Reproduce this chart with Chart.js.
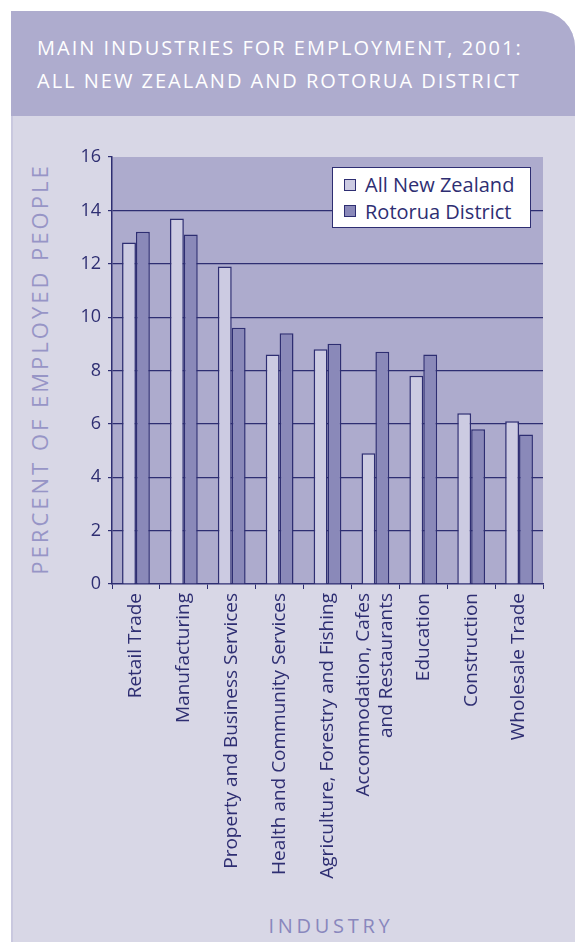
<!DOCTYPE html>
<html>
<head>
<meta charset="utf-8">
<title>Main industries for employment, 2001</title>
<script src="https://cdn.jsdelivr.net/npm/chart.js@4.4.1/dist/chart.umd.min.js"></script>
<style>
  html, body { margin: 0; padding: 0; background: #ffffff; }
  body { width: 575px; height: 942px; position: relative; overflow: hidden; font-family: "Open Sans", sans-serif; }
  .card { position: absolute; left: 11px; top: 11px; width: 564px; height: 931px; background: #d8d7e6; border-top-right-radius: 36px; overflow: hidden; }
  .card .head { position: absolute; left: 0; top: 0; width: 100%; height: 105px; background: #aeacce; }
  .card .edge { position: absolute; left: 0; top: 105px; width: 2px; bottom: 0; background: #c9c8df; }
  .title { position: absolute; left: 37px; color: #ffffff; font-size: 20px; line-height: 20px; letter-spacing: 2px; white-space: nowrap; }
  .ytitle { position: absolute; left: 39px; top: 369px; transform: translate(-50%, -50%) rotate(-90deg); color: #9795c6; font-size: 22px; letter-spacing: 3px; white-space: nowrap; }
  .xtitle { position: absolute; left: 331px; top: 925px; transform: translate(-50%, -50%); color: #8987bd; font-size: 20px; letter-spacing: 3.7px; white-space: nowrap; }
  #chart { position: absolute; left: 0; top: 0; }
  .legend { position: absolute; left: 332px; top: 167px; width: 197px; height: 59px; background: #ffffff; border: 1px solid #2e2e72; }
  .legend .row { position: absolute; left: 11px; height: 26px; line-height: 26px; color: #2e2e72; font-size: 20px; white-space: nowrap; }
  .legend .sw { display: inline-block; width: 10px; height: 10px; border: 1.5px solid #2e2e72; vertical-align: middle; margin-right: 9px; position: relative; top: -2px; }
</style>
</head>
<body>
<div class="card">
  <div class="head"></div>
  <div class="edge"></div>
</div>
<div class="title" style="top:38px">MAIN INDUSTRIES FOR EMPLOYMENT, 2001:</div>
<div class="title" style="top:71px">ALL NEW ZEALAND AND ROTORUA DISTRICT</div>
<div class="ytitle">PERCENT OF EMPLOYED PEOPLE</div>
<div class="xtitle">INDUSTRY</div>
<canvas id="chart" width="575" height="942"></canvas>
<div class="legend" id="legend"></div>
<script>
// industries, left to right
const industries = [
  'Retail Trade',
  'Manufacturing',
  'Property and Business Services',
  'Health and Community Services',
  'Agriculture, Forestry and Fishing',
  ['Accommodation, Cafes', 'and Restaurants'],
  'Education',
  'Construction',
  'Wholesale Trade'
];

// percent of employed people
const allNZ   = [12.8, 13.7, 11.9, 8.6, 8.8, 4.9, 7.8, 6.4, 6.1];
const rotorua = [13.2, 13.1, 9.6, 9.4, 9.0, 8.7, 8.6, 5.8, 5.6];

const seriesNames = ['All New Zealand', 'Rotorua District'];
const yTicks = [0, 2, 4, 6, 8, 10, 12, 14, 16];

const navy = '#2e2e72';
const fills = ['#cccbe2', '#8a89b9'];

// lavender fill behind the bars
const plotBg = {
  id: 'plotBg',
  beforeDraw(chart) {
    const { ctx, chartArea: a } = chart;
    ctx.save();
    ctx.fillStyle = '#adabcd';
    ctx.fillRect(a.left, a.top, a.right - a.left, a.bottom - a.top);
    ctx.restore();
  }
};

// centre two-line category labels on their tick
const centreLines = {
  id: 'centreLines',
  beforeDraw(chart) {
    const items = chart.scales.x.getLabelItems(chart.chartArea);
    items.forEach(it => {
      if (Array.isArray(it.label)) it.textOffset = 0;
    });
  }
};

const chart = new Chart(document.getElementById('chart').getContext('2d'), {
  type: 'bar',
  data: {
    labels: industries,
    datasets: [{
      label: seriesNames[0],
      data: allNZ,
      backgroundColor: fills[0],
      borderColor: navy,
      borderWidth: 1.5,
      categoryPercentage: 0.58,
      barPercentage: 1
    }, {
      label: seriesNames[1],
      data: rotorua,
      backgroundColor: fills[1],
      borderColor: navy,
      borderWidth: 1.5,
      categoryPercentage: 0.58,
      barPercentage: 1
    }]
  },
  options: {
    responsive: false,
    animation: false,
    devicePixelRatio: 1,
    layout: { padding: { left: 50, top: 157, right: 32, bottom: 58 } },
    plugins: {
      legend: { display: false },
      tooltip: { enabled: false }
    },
    scales: {
      x: {
        ticks: {
          color: navy,
          font: { family: 'Open Sans', size: 19 },
          minRotation: 90,
          maxRotation: 90,
          autoSkip: false,
          padding: 4
        },
        grid: { drawOnChartArea: false, tickLength: 5, color: navy, tickColor: navy },
        border: { color: navy, width: 1.5 },
        afterFit: s => { s.height = 300; }
      },
      y: {
        min: 0,
        max: 16,
        afterBuildTicks: s => { s.ticks = yTicks.map(v => ({ value: v })); },
        ticks: {
          color: navy,
          font: { family: 'Open Sans', size: 18 },
          padding: 7
        },
        grid: {
          color: c => (c.tick && (c.tick.value === 16 || c.tick.value === 0)) ? 'rgba(0,0,0,0)' : navy,
          tickColor: navy,
          tickLength: 4,
          lineWidth: 1.2
        },
        border: { color: navy, width: 1.5 },
        afterFit: s => { s.width = 62; }
      }
    }
  },
  plugins: [plotBg, centreLines]
});

// legend box
const legend = document.getElementById('legend');
seriesNames.forEach((name, i) => {
  const row = document.createElement('div');
  row.className = 'row';
  row.style.top = (4 + i * 26.5) + 'px';
  const sw = document.createElement('span');
  sw.className = 'sw';
  sw.style.background = fills[i];
  row.appendChild(sw);
  row.appendChild(document.createTextNode(name));
  legend.appendChild(row);
});
</script>
</body>
</html>
